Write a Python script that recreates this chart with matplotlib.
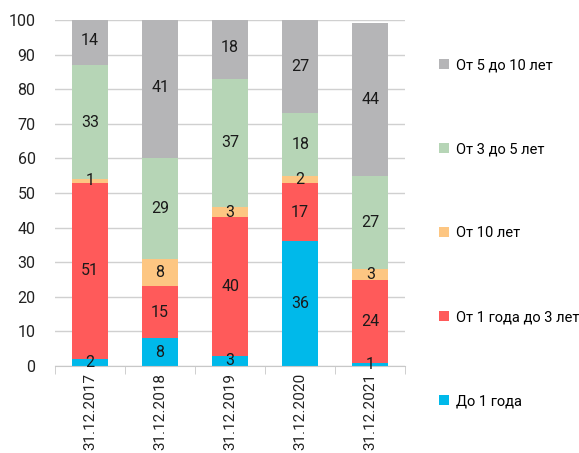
import matplotlib
matplotlib.use("Agg")
import matplotlib.pyplot as plt
import numpy as np
from matplotlib.patches import Patch

plt.rcParams['font.family'] = ['Roboto', 'DejaVu Sans']

categories = ["31.12.2017", "31.12.2018", "31.12.2019", "31.12.2020", "31.12.2021"]
series_names = ["До 1 года", "От 1 года до 3 лет", "От 10 лет", "От 3 до 5 лет", "От 5 до 10 лет"]
upto_1y = [2, 8, 3, 36, 1]
from_1_to_3y = [51, 15, 40, 17, 24]
over_10y = [1, 8, 3, 2, 3]
from_3_to_5y = [33, 29, 37, 18, 27]
from_5_to_10y = [14, 41, 18, 27, 44]
y_ticks = list(range(0, 101, 10))

series = [upto_1y, from_1_to_3y, over_10y, from_3_to_5y, from_5_to_10y]
colors = ["#00B9EA", "#FF5A5A", "#FDC682", "#B6D5B6", "#B5B5B7"]

fig = plt.figure(figsize=(5.79, 4.53), dpi=100)
ax = fig.add_axes([0.095, 0.192, 0.605, 0.764])

x = np.arange(len(categories))
bottom = np.zeros(len(categories))
for vals, col in zip(series, colors):
    vals = np.array(vals, dtype=float)
    ax.bar(x, vals, bottom=bottom, width=0.52, color=col, zorder=2)
    for xi, b, v in zip(x, bottom, vals):
        ax.text(xi, b + v / 2, f"{int(v)}", ha="center", va="center",
                fontsize=11.5, color="#1a1a1a", zorder=3)
    bottom += vals

ax.set_xlim(-0.5, len(categories) - 0.5)
ax.set_ylim(0, 100)
ax.set_yticks(y_ticks)
ax.set_yticklabels([str(t) for t in y_ticks], fontsize=11.5, color="#222222")
ax.yaxis.grid(True, color="#D0D0D0", linewidth=1.0, zorder=0)
ax.set_axisbelow(True)
ax.tick_params(axis="y", length=0, pad=14)

ax.set_xticks(x)
ax.set_xticklabels(categories, rotation=90, fontsize=11, color="#222222")
ax.set_xticks(np.arange(-0.5, len(categories)), minor=True)
ax.tick_params(axis="x", which="major", length=0, pad=5)
ax.tick_params(axis="x", which="minor", length=6, color="#C8C8C8", direction="out")

for s in ["top", "right", "left"]:
    ax.spines[s].set_visible(False)
ax.spines["bottom"].set_color("#C8C8C8")

handles = [Patch(facecolor=c, edgecolor="none") for c in colors][::-1]
labels = series_names[::-1]
fig.legend(handles, labels, loc="upper left", bbox_to_anchor=(0.748, 0.884),
           frameon=False, fontsize=10.5, labelspacing=4.8,
           handlelength=0.7, handleheight=0.7, handletextpad=0.45,
           borderaxespad=0)

fig.savefig("out.png", dpi=100)
